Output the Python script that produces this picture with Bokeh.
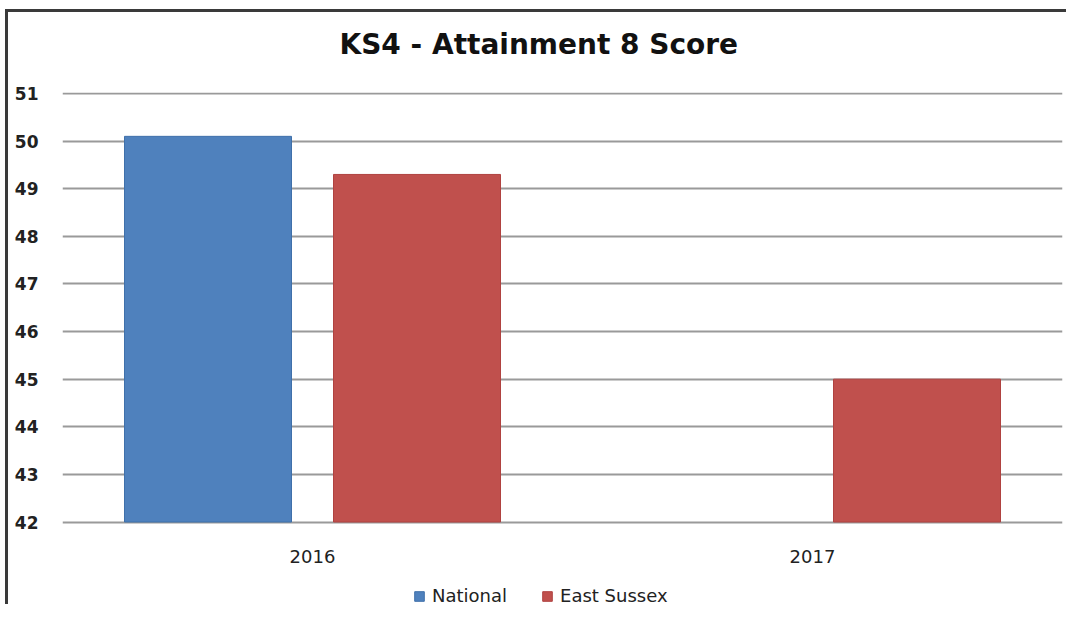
from bokeh.plotting import figure
from bokeh.models import FactorRange, Range1d, FixedTicker, Legend, LegendItem, ColumnDataSource, Title
from bokeh.transform import dodge
from bokeh.core.properties import value
from bokeh.embed import file_html
from bokeh.resources import INLINE
import numpy as np

years = ["2016", "2017"]
national = [50.1, np.nan]
east_sussex = [49.3, 45.0]
y_ticks = [42, 43, 44, 45, 46, 47, 48, 49, 50, 51]

source = ColumnDataSource(data=dict(years=years, national=national, east_sussex=east_sussex))

FONT = "DejaVu Sans"
# layout geometry (pixels)
px_per_unit = (519 - 93) / 9.0
y_end = 51 + 1.0 / px_per_unit
y_start = 51 - (604 - 93) / px_per_unit

p = figure(x_range=FactorRange(*years, range_padding=0), y_range=Range1d(y_start, y_end),
           width=1058, height=592, output_backend="svg", toolbar_location=None,
           title="KS4 - Attainment 8 Score",
           min_border_left=54, min_border_right=7, min_border_top=80, min_border_bottom=0)
p.styles = {"margin-left": "5px", "margin-top": "9px",
            "border-left": "3px solid #3a3a3a", "border-top": "3px solid #3a3a3a",
            "border-right": "none", "border-bottom": "none",
            "box-sizing": "content-box", "overflow": "hidden"}
p.outline_line_color = None
p.background_fill_color = "white"
p.border_fill_color = "white"

p.title.align = "left"
p.title.text_font = FONT
p.title.text_font_size = "28px"
p.title.text_font_style = "bold"
p.title.text_color = "#111111"
p.title.standoff = 24
p.title.offset = 277

# spacer between title and plot area
spacer = Title(text=" ", text_font_size="10px", standoff=7)
p.add_layout(spacer, "above")

r1 = p.vbar(x=dodge("years", -0.209, range=p.x_range), top="national", bottom=42, width=0.334,
            source=source, fill_color="#4F81BD", line_color="#3f70aa", line_width=1)
r2 = p.vbar(x=dodge("years", 0.209, range=p.x_range), top="east_sussex", bottom=42, width=0.334,
            source=source, fill_color="#C0504D", line_color="#b04240", line_width=1)

# category labels under the 42 baseline
p.text(x="years", y=42, text="years", source=source, text_align="center",
       text_baseline="middle", y_offset=34, text_font=value(FONT),
       text_font_size="18px", text_color="#222222")

p.yaxis.ticker = FixedTicker(ticks=y_ticks)
p.ygrid.ticker = FixedTicker(ticks=y_ticks)
p.xgrid.grid_line_color = None
p.ygrid.grid_line_color = "#9a9a9a"
p.ygrid.grid_line_width = 2
p.ygrid.level = "underlay"
p.xaxis.visible = False

ax = p.yaxis
ax.axis_line_color = None
ax.major_tick_line_color = None
ax.minor_tick_line_color = None
ax.major_tick_in = 0
ax.major_tick_out = 0
ax.minor_tick_in = 0
ax.minor_tick_out = 0
ax.major_label_text_font = FONT
ax.major_label_text_color = "#222222"
ax.major_label_text_font_size = "17px"
ax.major_label_text_font_style = "bold"
ax.major_label_standoff = 24

legend = Legend(items=[LegendItem(label="National", renderers=[r1]),
                       LegendItem(label="East Sussex", renderers=[r2])],
                orientation="horizontal", location=(351, 1))
legend.label_text_font = FONT
legend.label_text_font_size = "18px"
legend.label_text_color = "#222222"
legend.glyph_width = 12
legend.glyph_height = 12
legend.label_standoff = 7
legend.spacing = 34
legend.border_line_color = None
legend.background_fill_alpha = 0
legend.margin = 0
legend.padding = 0
p.add_layout(legend)

open("out.html", "w").write(file_html(p, INLINE))
